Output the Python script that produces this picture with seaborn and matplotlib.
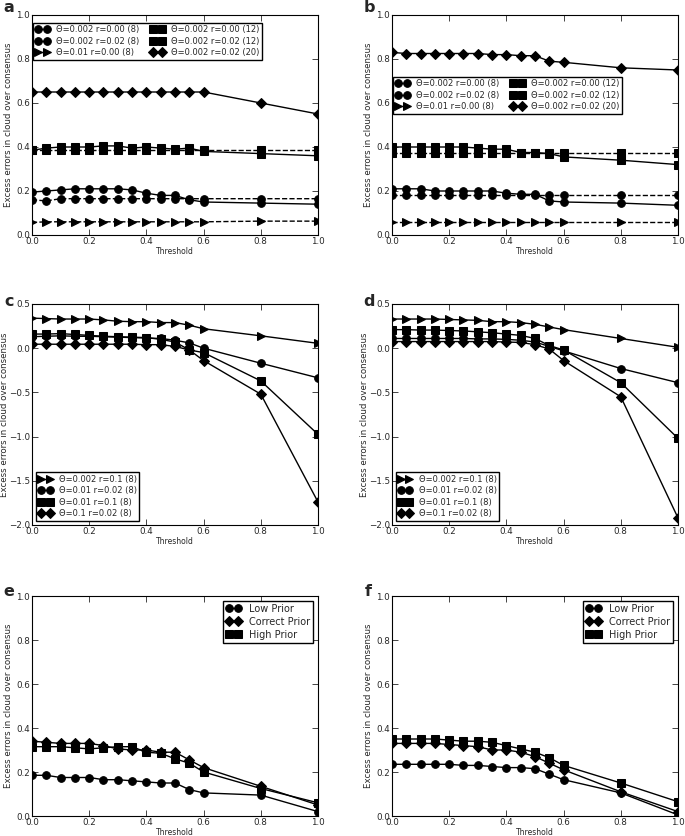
import numpy as np
import pandas as pd
import seaborn as sns
import matplotlib
matplotlib.use("Agg")
import matplotlib.pyplot as plt

# thresholds used for every panel
threshold = [0.0, 0.05, 0.1, 0.15, 0.2, 0.25, 0.3, 0.35, 0.4, 0.45, 0.5, 0.55, 0.6, 0.8, 1.0]

# ---- panel a ----
a_labels = ["Θ=0.002 r=0.00 (8)", "Θ=0.002 r=0.02 (8)", "Θ=0.01 r=0.00 (8)",
            "Θ=0.002 r=0.00 (12)", "Θ=0.002 r=0.02 (12)", "Θ=0.002 r=0.02 (20)"]
a_s1 = [0.16, 0.155, 0.165, 0.165, 0.165, 0.165, 0.165, 0.165, 0.165, 0.165, 0.165, 0.165, 0.165, 0.165, 0.165]
a_s2 = [0.195, 0.20, 0.205, 0.21, 0.21, 0.21, 0.21, 0.205, 0.19, 0.18, 0.18, 0.16, 0.15, 0.145, 0.14]
a_s3 = [0.057, 0.06, 0.06, 0.06, 0.06, 0.06, 0.06, 0.06, 0.06, 0.06, 0.06, 0.06, 0.06, 0.063, 0.063]
a_s4 = [0.385, 0.385, 0.385, 0.385, 0.385, 0.385, 0.385, 0.385, 0.385, 0.385, 0.385, 0.385, 0.385, 0.385, 0.385]
a_s5 = [0.385, 0.395, 0.40, 0.40, 0.40, 0.405, 0.405, 0.395, 0.40, 0.395, 0.39, 0.395, 0.38, 0.37, 0.36]
a_s6 = [0.65, 0.65, 0.65, 0.65, 0.65, 0.65, 0.65, 0.65, 0.65, 0.65, 0.65, 0.65, 0.65, 0.60, 0.55]

# ---- panel b ----
b_s1 = [0.18, 0.18, 0.18, 0.18, 0.18, 0.18, 0.18, 0.18, 0.18, 0.18, 0.18, 0.18, 0.18, 0.18, 0.18]
b_s2 = [0.21, 0.21, 0.21, 0.20, 0.20, 0.20, 0.20, 0.20, 0.19, 0.185, 0.185, 0.155, 0.15, 0.145, 0.135]
b_s3 = [0.06, 0.06, 0.06, 0.06, 0.06, 0.06, 0.06, 0.06, 0.06, 0.06, 0.06, 0.06, 0.06, 0.06, 0.06]
b_s4 = [0.375, 0.375, 0.375, 0.375, 0.375, 0.375, 0.375, 0.375, 0.375, 0.375, 0.375, 0.375, 0.375, 0.375, 0.375]
b_s5 = [0.40, 0.40, 0.40, 0.40, 0.40, 0.40, 0.395, 0.39, 0.39, 0.375, 0.375, 0.37, 0.355, 0.34, 0.32]
b_s6 = [0.83, 0.825, 0.825, 0.825, 0.825, 0.825, 0.825, 0.82, 0.82, 0.815, 0.815, 0.79, 0.785, 0.76, 0.75]

# ---- panel c ----
cd_labels = ["Θ=0.002 r=0.1 (8)", "Θ=0.01 r=0.02 (8)", "Θ=0.01 r=0.1 (8)", "Θ=0.1 r=0.02 (8)"]
c_tri = [0.34, 0.335, 0.33, 0.33, 0.33, 0.32, 0.305, 0.30, 0.30, 0.29, 0.29, 0.26, 0.22, 0.14, 0.055]
c_circ = [0.13, 0.135, 0.14, 0.135, 0.135, 0.13, 0.125, 0.12, 0.115, 0.11, 0.09, 0.06, 0.0, -0.17, -0.335]
c_sq = [0.16, 0.16, 0.165, 0.155, 0.145, 0.135, 0.13, 0.125, 0.12, 0.10, 0.07, -0.02, -0.05, -0.37, -0.975]
c_dia = [0.045, 0.045, 0.045, 0.045, 0.045, 0.045, 0.045, 0.045, 0.04, 0.04, 0.02, -0.02, -0.14, -0.52, -1.74]

# ---- panel d ----
d_tri = [0.33, 0.33, 0.33, 0.33, 0.325, 0.32, 0.315, 0.30, 0.30, 0.29, 0.27, 0.24, 0.21, 0.11, 0.01]
d_circ = [0.11, 0.11, 0.11, 0.11, 0.11, 0.11, 0.105, 0.105, 0.10, 0.09, 0.07, 0.02, -0.03, -0.23, -0.39]
d_sq = [0.21, 0.21, 0.205, 0.205, 0.20, 0.195, 0.185, 0.175, 0.16, 0.145, 0.11, 0.03, -0.02, -0.39, -1.02]
d_dia = [0.075, 0.075, 0.075, 0.075, 0.075, 0.075, 0.075, 0.075, 0.07, 0.065, 0.04, -0.01, -0.14, -0.55, -1.92]

# ---- panels e, f ----
ef_labels = ["Low Prior", "Correct Prior", "High Prior"]
e_low = [0.185, 0.185, 0.175, 0.175, 0.175, 0.165, 0.165, 0.16, 0.155, 0.15, 0.15, 0.12, 0.105, 0.095, 0.02]
e_cor = [0.34, 0.335, 0.33, 0.33, 0.33, 0.32, 0.305, 0.30, 0.30, 0.29, 0.29, 0.255, 0.22, 0.135, 0.05]
e_high = [0.315, 0.315, 0.315, 0.31, 0.305, 0.31, 0.315, 0.315, 0.29, 0.285, 0.26, 0.24, 0.20, 0.125, 0.06]
f_low = [0.235, 0.235, 0.235, 0.235, 0.235, 0.23, 0.23, 0.225, 0.22, 0.22, 0.215, 0.19, 0.165, 0.105, 0.005]
f_cor = [0.33, 0.33, 0.33, 0.33, 0.325, 0.32, 0.315, 0.30, 0.30, 0.29, 0.27, 0.24, 0.21, 0.11, 0.02]
f_high = [0.35, 0.35, 0.35, 0.35, 0.345, 0.34, 0.34, 0.335, 0.32, 0.305, 0.29, 0.265, 0.23, 0.15, 0.065]


sns.set_style("white")
plt.rcParams.update({
    "font.family": ["DejaVu Sans"],
    "xtick.direction": "in", "ytick.direction": "in",
    "xtick.top": True, "ytick.right": True,
    "xtick.bottom": True, "ytick.left": True,
    "xtick.major.size": 4, "ytick.major.size": 4,
    "xtick.major.width": 0.6, "ytick.major.width": 0.6,
    "xtick.major.pad": 1.5, "ytick.major.pad": 1.5,
    "xtick.labelsize": 6.3, "ytick.labelsize": 6.3,
    "axes.edgecolor": "black", "axes.linewidth": 0.8,
    "legend.numpoints": 2,
})


def draw(ax, series, styles, labels):
    for y, (m, ls), lab in zip(series, styles, labels):
        sns.lineplot(x=threshold, y=y, ax=ax, color="black", marker=m, linestyle=ls,
                     markersize=5.5, markeredgecolor="black", linewidth=1,
                     label=lab, legend=False)


def finish(ax, ylim, yticks, ylab_x=-0.068):
    ax.set_xlim(0, 1)
    ax.set_ylim(*ylim)
    ax.set_xticks(np.arange(0, 1.01, 0.2))
    ax.set_yticks(yticks)
    ax.set_xlabel("Threshold", fontsize=5.5, labelpad=1)
    ax.set_ylabel("Excess errors in cloud over consensus", fontsize=6.2)
    ax.yaxis.set_label_coords(ylab_x, 0.5)
    for sp in ax.spines.values():
        sp.set_visible(True)


fig = plt.figure(figsize=(6.85, 8.36), dpi=100)
W, H = 685, 836
def box(l, t, r, b):
    return [l / W, 1 - b / H, (r - l) / W, (b - t) / H]

ax_a = fig.add_axes(box(32, 15, 318, 235))
ax_b = fig.add_axes(box(392, 15, 678, 235))
ax_c = fig.add_axes(box(32, 304, 318, 525))
ax_d = fig.add_axes(box(392, 304, 678, 525))
ax_e = fig.add_axes(box(32, 596, 318, 816))
ax_f = fig.add_axes(box(392, 596, 678, 816))

ab_styles = [("o", "--"), ("o", "-"), (">", "--"), ("s", "--"), ("s", "-"), ("D", "-")]
cd_styles = [(">", "-"), ("o", "-"), ("s", "-"), ("D", "-")]
ef_styles = [("o", "-"), ("D", "-"), ("s", "-")]

leg_kw = dict(frameon=True, fancybox=False, edgecolor="black", framealpha=1,
              handlelength=1.6, handletextpad=0.8, borderpad=0.3, labelspacing=0.3)

draw(ax_a, [a_s1, a_s2, a_s3, a_s4, a_s5, a_s6], ab_styles, a_labels)
finish(ax_a, (0, 1), np.arange(0, 1.01, 0.2))
ax_a.legend(loc="upper left", bbox_to_anchor=(0.005, 0.965), borderaxespad=0,
            ncol=2, fontsize=6, columnspacing=1.4, **leg_kw)

draw(ax_b, [b_s1, b_s2, b_s3, b_s4, b_s5, b_s6], ab_styles, a_labels)
finish(ax_b, (0, 1), np.arange(0, 1.01, 0.2))
ax_b.legend(loc="upper left", bbox_to_anchor=(0.005, 0.72), borderaxespad=0,
            ncol=2, fontsize=6, columnspacing=1.4, **leg_kw)

draw(ax_c, [c_tri, c_circ, c_sq, c_dia], cd_styles, cd_labels)
finish(ax_c, (-2, 0.5), np.arange(-2, 0.51, 0.5), ylab_x=-0.082)
ax_c.legend(loc="lower left", fontsize=6, **leg_kw)

draw(ax_d, [d_tri, d_circ, d_sq, d_dia], cd_styles, cd_labels)
finish(ax_d, (-2, 0.5), np.arange(-2, 0.51, 0.5), ylab_x=-0.082)
ax_d.legend(loc="lower left", fontsize=6, **leg_kw)

draw(ax_e, [e_low, e_cor, e_high], ef_styles, ef_labels)
finish(ax_e, (0, 1), np.arange(0, 1.01, 0.2))
ax_e.legend(loc="upper right", fontsize=7, **leg_kw)

draw(ax_f, [f_low, f_cor, f_high], ef_styles, ef_labels)
finish(ax_f, (0, 1), np.arange(0, 1.01, 0.2))
ax_f.legend(loc="upper right", fontsize=7, **leg_kw)

for lab, x, y in [("a", 9, 8), ("b", 369, 8), ("c", 9, 302), ("d", 369, 302),
                  ("e", 9, 592), ("f", 368, 592)]:
    fig.text(x / W, 1 - y / H, lab, fontsize=11.5, fontweight="bold", ha="center", va="center")

fig.savefig("out.png", dpi=100)
